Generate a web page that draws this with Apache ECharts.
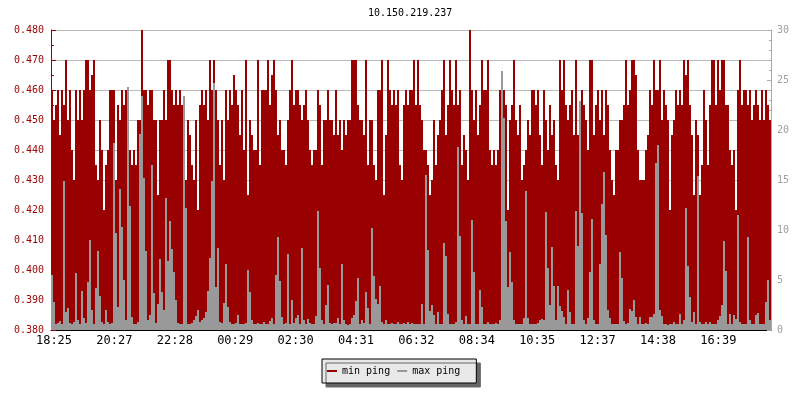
<!DOCTYPE html>
<html>
<head>
<meta charset="utf-8">
<script src="https://cdn.jsdelivr.net/npm/echarts@6/dist/echarts.min.js"></script>
<style>
html,body{margin:0;padding:0;background:#fff;}
#chart{width:800px;height:400px;}
</style>
</head>
<body>
<div id="chart"></div>
<script>
// Title and legend names
const chartTitle = '10.150.219.237';
const seriesNames = ['min ping', 'max ping'];

// X-axis tick labels (every ~121 minutes)
const tickLabels = ['18:25','20:27','22:28','00:29','02:30','04:31','06:32','08:34','10:35','12:37','14:38','16:39'];

// min ping (left axis), one value per 4-minute slot
const minPing = [
0.46,0.45,0.455,0.46,0.445,0.46,0.455,0.47,0.45,0.46,0.44,0.43,0.46,0.45,0.46,0.45,0.46,0.47,0.47,0.46,0.465,0.47,0.435,0.43,0.45,0.44,0.42,0.435,0.44,0.46,
0.46,0.46,0.43,0.455,0.45,0.46,0.455,0.46,0.44,0.44,0.435,0.44,0.435,0.45,0.45,0.48,0.46,0.46,0.455,0.46,0.46,0.45,0.45,0.425,0.45,0.45,0.46,0.45,0.47,0.47,
0.46,0.455,0.46,0.455,0.46,0.455,0.45,0.43,0.45,0.445,0.435,0.43,0.45,0.42,0.455,0.46,0.455,0.46,0.45,0.47,0.46,0.47,0.46,0.45,0.435,0.45,0.43,0.46,0.45,0.46,
0.455,0.465,0.46,0.455,0.445,0.46,0.44,0.47,0.425,0.45,0.445,0.44,0.44,0.47,0.435,0.46,0.46,0.46,0.47,0.455,0.465,0.47,0.46,0.445,0.45,0.44,0.44,0.435,0.45,0.46,
0.47,0.455,0.46,0.46,0.455,0.45,0.455,0.46,0.45,0.44,0.435,0.44,0.44,0.46,0.455,0.435,0.45,0.45,0.46,0.45,0.45,0.445,0.46,0.445,0.45,0.44,0.45,0.445,0.45,0.45,
0.47,0.47,0.47,0.455,0.45,0.45,0.445,0.47,0.435,0.45,0.45,0.435,0.43,0.46,0.46,0.47,0.425,0.445,0.47,0.46,0.455,0.46,0.455,0.46,0.435,0.43,0.455,0.46,0.455,0.46,
0.46,0.47,0.455,0.47,0.455,0.45,0.44,0.44,0.435,0.425,0.43,0.45,0.435,0.445,0.45,0.46,0.47,0.445,0.455,0.47,0.46,0.455,0.47,0.455,0.46,0.435,0.445,0.44,0.43,0.48,
0.46,0.45,0.46,0.445,0.455,0.47,0.46,0.46,0.47,0.44,0.435,0.44,0.435,0.44,0.46,0.455,0.46,0.455,0.42,0.45,0.455,0.47,0.45,0.445,0.455,0.43,0.435,0.44,0.45,0.445,
0.46,0.46,0.455,0.46,0.445,0.435,0.46,0.45,0.44,0.455,0.445,0.45,0.435,0.43,0.47,0.46,0.47,0.455,0.45,0.455,0.46,0.445,0.47,0.445,0.425,0.46,0.455,0.45,0.44,0.47,
0.47,0.445,0.455,0.46,0.45,0.46,0.445,0.46,0.455,0.44,0.43,0.425,0.44,0.44,0.45,0.45,0.455,0.47,0.455,0.46,0.47,0.47,0.465,0.44,0.43,0.43,0.43,0.44,0.445,0.46,
0.455,0.47,0.46,0.46,0.47,0.45,0.46,0.455,0.45,0.42,0.445,0.45,0.46,0.455,0.46,0.455,0.47,0.465,0.47,0.455,0.445,0.425,0.45,0.445,0.425,0.435,0.46,0.45,0.435,0.455,
0.47,0.47,0.455,0.47,0.46,0.47,0.47,0.455,0.455,0.44,0.435,0.44,0.42,0.46,0.47,0.455,0.46,0.46,0.455,0.46,0.45,0.455,0.46,0.455,0.45,0.46,0.45,0.46,0.455,0.45
];

// max ping (right axis), same slots
const maxPing = [
5.5,2.8,0.6,0.7,0.9,0.6,14.9,1.8,2.2,0.7,0.6,0.8,5.7,1.0,0.6,3.9,1.2,0.7,4.8,9.0,2.0,0.6,4.2,7.9,3.4,0.8,0.6,2.0,0.8,0.6,
0.7,18.7,9.7,2.3,14.1,10.3,5.0,1.0,24.3,12.4,1.3,0.6,0.6,0.8,19.6,23.4,15.2,7.9,1.0,1.5,16.5,3.7,0.7,2.6,7.1,3.8,2.0,13.2,6.9,10.9,
8.1,5.8,3.0,0.7,0.6,0.6,23.4,12.2,0.6,0.6,0.7,1.0,1.4,2.0,0.8,1.0,1.2,1.8,3.9,7.2,14.9,24.7,4.3,8.2,0.8,0.7,2.7,6.6,2.3,0.8,
0.6,0.6,0.7,1.5,0.6,0.6,0.6,0.7,6.0,3.8,1.0,0.6,0.6,0.7,0.6,0.6,0.8,0.6,0.6,0.9,1.2,0.6,5.5,9.3,4.9,1.3,0.6,0.7,7.6,0.6,
3.0,0.7,1.2,1.5,0.6,8.2,1.0,0.6,1.1,0.7,0.6,0.6,1.4,11.9,6.2,1.0,0.6,2.5,4.5,0.7,0.6,0.7,0.7,1.2,0.6,6.6,1.0,0.6,0.5,0.6,
1.2,1.5,2.9,5.2,0.6,1.0,0.7,3.8,2.2,0.6,10.2,5.4,3.1,2.6,4.4,0.8,0.6,1.0,0.6,0.6,0.7,0.6,0.6,0.8,0.6,0.6,0.7,0.6,0.8,0.6,
0.7,0.6,0.6,0.6,0.6,2.6,0.6,15.5,8.0,1.9,2.5,1.5,0.6,1.8,0.6,0.6,8.7,7.4,1.6,0.6,0.6,0.6,0.8,18.3,9.4,1.0,0.6,1.4,0.6,0.6,
11.0,5.8,0.6,0.6,4.0,2.3,0.6,0.6,0.8,0.6,0.6,0.6,0.7,0.6,1.0,25.9,21.2,10.9,4.3,7.8,4.8,1.0,0.6,0.6,0.6,0.6,1.2,13.9,1.2,0.6,
0.6,0.6,0.6,0.7,1.0,1.1,1.0,11.8,6.2,2.5,8.3,4.4,1.0,4.4,2.4,1.9,1.3,0.6,4.0,1.8,0.6,0.6,11.9,8.4,22.9,11.7,1.0,0.6,1.2,5.8,
11.1,1.0,0.6,0.6,6.6,12.6,15.8,9.5,2.0,1.2,0.6,0.6,0.6,0.6,7.8,5.2,0.9,0.6,0.7,2.1,1.9,3.0,1.3,0.6,1.3,0.6,0.6,0.7,0.6,1.3,
1.3,1.6,16.7,18.5,2.0,1.4,0.6,0.6,0.5,0.6,0.6,0.8,0.6,0.6,1.6,0.6,1.0,12.2,6.4,3.3,0.8,1.8,0.6,15.4,0.8,0.6,0.6,0.8,0.6,0.8,
0.6,0.6,0.6,1.0,1.4,2.5,8.9,5.9,0.6,1.6,0.6,1.5,1.1,11.5,0.8,0.6,0.6,0.6,9.3,1.0,0.6,0.6,1.5,1.7,0.6,0.6,0.6,2.8,5.0,1.0
];

const RED = '#990000';
const GREY = '#999999';
const MONO = 'DejaVu Sans Mono';
const TICK_STEP = 30.2; // slots per tick label
const slots = minPing.map((_, i) => String(i));

const chart = echarts.init(document.getElementById('chart'), null, {renderer: 'canvas'});
chart.setOption({
  animation: false,
  backgroundColor: '#ffffff',
  title: {
    text: chartTitle,
    left: 363, top: 3,
    textStyle: {fontFamily: MONO, fontSize: 10, fontWeight: 'normal', color: '#000'}
  },
  legend: {
    left: 322, top: 359,
    orient: 'horizontal',
    padding: [7, 16, 7, 5],
    itemGap: 7,
    itemWidth: 10, itemHeight: 2,
    backgroundColor: '#e9e9e9',
    borderColor: '#000', borderWidth: 1,
    shadowColor: '#666666', shadowBlur: 0, shadowOffsetX: 4, shadowOffsetY: 4,
    textStyle: {fontFamily: MONO, fontSize: 10, color: '#000'},
    data: [{name: seriesNames[0], icon: 'rect'}, {name: seriesNames[1], icon: 'rect'}]
  },
  grid: {left: 51, right: 29, top: 30, bottom: 70, containLabel: false},
  xAxis: [{
    type: 'category', data: slots, boundaryGap: true, show: false
  }, {
    type: 'value', min: 0, max: minPing.length, interval: TICK_STEP, position: 'bottom',
    axisLine: {show: true, lineStyle: {color: '#000', width: 1}},
    axisTick: {show: true, inside: true, length: 5, lineStyle: {color: '#000'}},
    splitLine: {show: false},
    axisLabel: {
      fontFamily: MONO, fontSize: 12, color: '#000', margin: 5,
      padding: [0, 0, 0, 6],
      showMaxLabel: false,
      formatter: function (v) {
        const idx = Math.round(v / TICK_STEP);
        return tickLabels[idx] !== undefined ? tickLabels[idx] : '';
      }
    }
  }],
  yAxis: [{
    type: 'value', min: 0.38, max: 0.48, interval: 0.01, position: 'left',
    axisLine: {show: true, lineStyle: {color: RED}},
    axisTick: {show: true, inside: true, length: 5, lineStyle: {color: RED}},
    minorTick: {show: true, splitNumber: 2, length: 3, lineStyle: {color: RED}},
    splitLine: {show: true, lineStyle: {color: '#bbbbbb', width: 1}},
    axisLabel: {fontFamily: MONO, fontSize: 10, color: RED, margin: 7,
      formatter: v => v.toFixed(3)}
  }, {
    type: 'value', min: 0, max: 30, interval: 5, position: 'right',
    axisLine: {show: true, lineStyle: {color: '#aaaaaa'}},
    axisTick: {show: true, inside: true, length: 4, lineStyle: {color: '#aaaaaa'}},
    minorTick: {show: true, splitNumber: 5, length: 2, lineStyle: {color: '#aaaaaa'}},
    splitLine: {show: false},
    axisLabel: {fontFamily: MONO, fontSize: 10, color: '#a0a0a0', margin: 6}
  }],
  series: [{
    name: seriesNames[0], type: 'bar', xAxisIndex: 0, yAxisIndex: 0,
    data: minPing, color: RED, barWidth: 2, barGap: '-100%', barCategoryGap: 0,
    itemStyle: {color: RED, borderWidth: 0, opacity: 1}, z: 2
  }, {
    name: seriesNames[1], type: 'bar', xAxisIndex: 0, yAxisIndex: 1,
    data: maxPing, color: GREY, barWidth: 2, barGap: '-100%', barCategoryGap: 0,
    itemStyle: {color: GREY, borderWidth: 0, opacity: 1}, z: 3
  }]
});
</script>
</body>
</html>
